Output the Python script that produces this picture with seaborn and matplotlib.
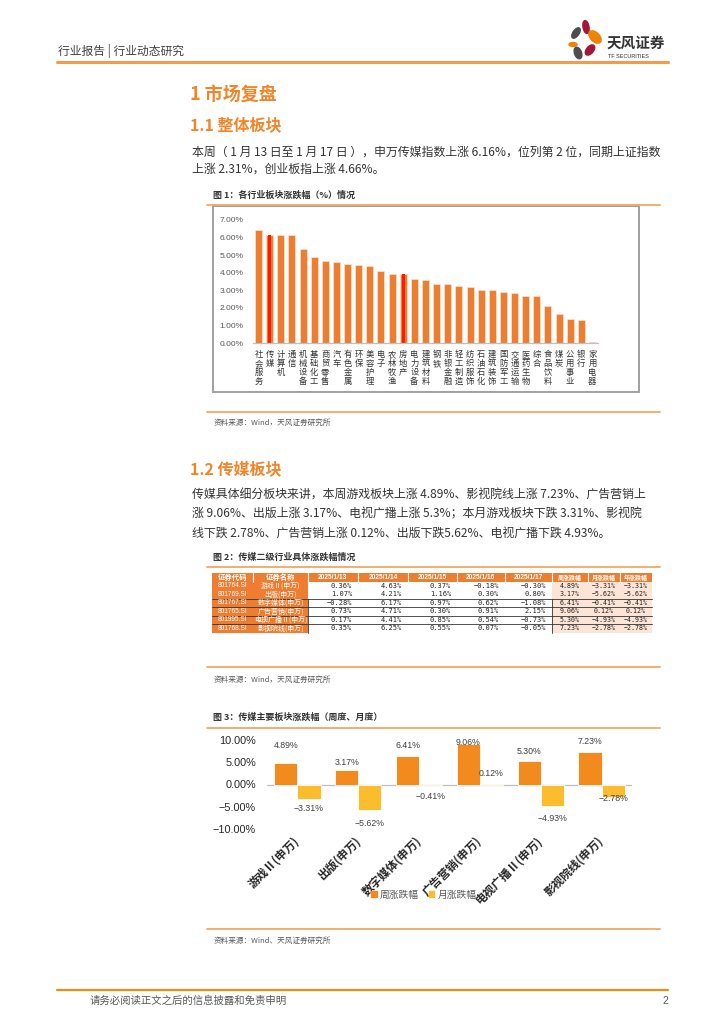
import matplotlib
matplotlib.use('Agg')
import matplotlib.pyplot as plt
import matplotlib.transforms as mtransforms
import seaborn as sns
import pandas as pd
from matplotlib.patches import Rectangle, Ellipse, Patch
from matplotlib.lines import Line2D

# ---------------- data ----------------
industries = ['社会服务', '传媒', '计算机', '通信', '机械设备', '基础化工', '商贸零售', '汽车',
              '有色金属', '环保', '美容护理', '电子', '农林牧渔', '房地产', '电力设备', '建筑材料',
              '钢铁', '非银金融', '轻工制造', '纺织服饰', '石油石化', '建筑装饰', '国防军工',
              '交通运输', '医药生物', '综合', '食品饮料', '煤炭', '公用事业', '银行', '家用电器']
industry_change = [6.41, 6.16, 6.15, 6.15, 5.37, 4.90, 4.69, 4.60, 4.50, 4.43, 4.39, 4.09,
                   3.92, 3.91, 3.67, 3.61, 3.35, 3.35, 3.25, 3.18, 3.01, 3.01, 2.88, 2.82,
                   2.67, 2.67, 2.10, 1.65, 1.38, 1.32, 0.08]
highlight = ['传媒', '房地产']
chart1_ticks = [0, 1, 2, 3, 4, 5, 6, 7]

table_header = ['证券代码', '证券名称', '2025/1/13', '2025/1/14', '2025/1/15', '2025/1/16',
                '2025/1/17', '周涨跌幅', '月涨跌幅', '年涨跌幅']
codes = ['801764.SI', '801769.SI', '801767.SI', '801765.SI', '801995.SI', '801768.SI']
sector_names = ['游戏Ⅱ(申万)', '出版(申万)', '数字媒体(申万)', '广告营销(申万)',
                '电视广播Ⅱ(申万)', '影视院线(申万)']
d0113 = [0.36, 1.07, -0.28, 0.73, 0.17, 0.35]
d0114 = [4.63, 4.21, 6.17, 4.71, 4.41, 6.25]
d0115 = [0.37, 1.16, 0.97, 0.30, 0.85, 0.55]
d0116 = [-0.18, 0.30, 0.62, 0.91, 0.54, 0.07]
d0117 = [-0.30, 0.80, -1.08, 2.15, -0.73, -0.05]
week_change = [4.89, 3.17, 6.41, 9.06, 5.30, 7.23]
month_change = [-3.31, -5.62, -0.41, 0.12, -4.93, -2.78]
year_change = [-3.31, -5.62, -0.41, 0.12, -4.93, -2.78]
chart3_ticks = [-10, -5, 0, 5, 10]
series_names = ['周涨跌幅', '月涨跌幅']

# ---------------- style ----------------
ORANGE = '#ED7D31'
TITLE_OR = '#F0852A'
LINE_OR = '#F5A762'
WEEK_C = '#F28A1E'
MONTH_C = '#FBBD2D'
W, H = 724, 1024
sns.set_theme(style='white')
plt.rcParams['font.family'] = ['Noto Sans CJK SC', 'DejaVu Sans']
plt.rcParams['axes.unicode_minus'] = False
NUM = ['Liberation Sans', 'DejaVu Sans']

fig = plt.figure(figsize=(W / 100, H / 100), dpi=100)
fig.patch.set_facecolor('white')
pg = fig.add_axes([0, 0, 1, 1])
pg.set_xlim(0, W)
pg.set_ylim(H, 0)
pg.axis('off')


def rect(x0, y0, x1, y1):
    return [x0 / W, 1 - y1 / H, (x1 - x0) / W, (y1 - y0) / H]


def hline(y, x0=207, x1=660, color=LINE_OR, lw=1.3):
    pg.add_line(Line2D([x0, x1], [y, y], color=color, lw=lw))


def txt(x, y, s, **kw):
    kw.setdefault('va', 'center')
    kw.setdefault('color', '#333333')
    pg.text(x, y, s, **kw)


# ---------------- header ----------------
txt(58, 51, '行业报告 | 行业动态研究', fontsize=8.5, color='#404040')
hline(61.5, 57, 668, color='#F39A4C', lw=2.2)
for (cx, cy, w, h, ang, c) in [(576, 33, 6, 12, 35, '#4D4D4D'), (586, 27, 6, 13, -10, '#A3173A'),
                                (595, 37, 9, 15, -45, '#F08300'), (573, 44.5, 8, 4, 0, '#F08300'),
                                (590, 50, 7, 12, 40, '#A3173A'), (578, 53, 7, 12, -20, '#4D4D4D')]:
    pg.add_patch(Ellipse((cx, cy), w, h, angle=ang, color=c))
txt(607, 43, '天风证券', fontsize=10.5, fontweight='bold', color='#333333')
txt(608, 56.5, 'TF SECURITIES', fontsize=4, color='#333333', family=NUM)

# ---------------- section 1 ----------------
txt(190, 94, '1 市场复盘', fontsize=13, fontweight='bold', color=TITLE_OR)
txt(190, 125, '1.1 整体板块', fontsize=11.5, fontweight='bold', color=TITLE_OR)
txt(192, 152, '本周（ 1 月 13 日至 1 月 17 日 ），申万传媒指数上涨 6.16%，位列第 2 位，同期上证指数',
    fontsize=8.6)
txt(192, 169.5, '上涨 2.31%，创业板指上涨 4.66%。', fontsize=8.6)

txt(213, 195, '图 1：各行业板块涨跌幅（%）情况', fontsize=6.5, fontweight='bold')
hline(204.5)
pg.add_patch(Rectangle((213, 206), 426, 186, fill=False, ec='#A0A0A0', lw=1.4))

ax1 = fig.add_axes(rect(253, 220, 598, 343))
sns.barplot(x=industries, y=industry_change, color=ORANGE, width=0.63, ax=ax1,
            edgecolor='#FBE3D2', linewidth=0.5, saturation=1)
hi_idx = [industries.index(n) for n in highlight]
ax1.bar(hi_idx, [industry_change[i] for i in hi_idx], width=0.28, color='#FF1A00', lw=0)
ax1.set_ylim(0, 7)
ax1.set_xlim(-0.5, len(industries) - 0.5)
ax1.set_yticks(chart1_ticks)
ax1.set_yticklabels([f'{t:.2f}%' for t in chart1_ticks], fontsize=6, color='#595959', family=NUM)
ax1.set_xticks(range(len(industries)))
ax1.set_xticklabels(['\n'.join(n) for n in industries], fontsize=6.0, color='#333333',
                    linespacing=0.98, va='top')
ax1.tick_params(axis='both', length=0)
ax1.tick_params(axis='y', pad=7)
ax1.tick_params(axis='x', pad=5)
for s in ['top', 'right', 'left']:
    ax1.spines[s].set_visible(False)
ax1.spines['bottom'].set_color('#BFBFBF')
ax1.spines['bottom'].set_linewidth(0.9)
ax1.set_xlabel('')
ax1.set_ylabel('')
ax1.patch.set_alpha(0)

hline(412)
txt(214, 423, '资料来源：Wind，天风证券研究所', fontsize=5.5, color='#595959')

# ---------------- section 1.2 ----------------
txt(190, 469, '1.2 传媒板块', fontsize=11.5, fontweight='bold', color=TITLE_OR)
txt(192, 495, '传媒具体细分板块来讲，本周游戏板块上涨 4.89%、影视院线上涨 7.23%、广告营销上', fontsize=8.6)
txt(192, 514, '涨 9.06%、出版上涨 3.17%、电视广播上涨 5.3%；本月游戏板块下跌 3.31%、影视院', fontsize=8.6)
txt(192, 533, '线下跌 2.78%、广告营销上涨 0.12%、出版下跌5.62%、电视广播下跌 4.93%。', fontsize=8.6)
txt(213, 557, '图 2：传媒二级行业具体涨跌幅情况', fontsize=6.5, fontweight='bold')
hline(567)

# ---------------- table ----------------
col_edges = [212, 253, 308, 358, 408, 457, 505, 552, 588, 620, 652]
row_edges = [573.3, 581.7, 590.0, 598.5, 607.0, 615.5, 624.0, 632.5]
pg.add_patch(Rectangle((col_edges[0], row_edges[0]), col_edges[-1] - col_edges[0],
                       row_edges[1] - row_edges[0], color=ORANGE, lw=0))
pg.add_patch(Rectangle((col_edges[0], row_edges[1]), col_edges[2] - col_edges[0],
                       row_edges[-1] - row_edges[1], color=ORANGE, lw=0))
pg.add_patch(Rectangle((col_edges[7], row_edges[1]), col_edges[-1] - col_edges[7],
                       row_edges[-1] - row_edges[1], color='#FCE4D6', lw=0))
for x in col_edges[1:-1]:
    pg.add_line(Line2D([x, x], [row_edges[0], row_edges[1]], color='white', lw=0.8))
for j, hd in enumerate(table_header):
    cx = (col_edges[j] + col_edges[j + 1]) / 2
    fs = 5.3 if j < 2 else (4.8 if j < 7 else 4.3)
    kw = dict(family=NUM) if '/' in hd else {}
    txt(cx, (row_edges[0] + row_edges[1]) / 2, hd, fontsize=fs, color='white', ha='center',
        fontweight='bold', **kw)
cols = [d0113, d0114, d0115, d0116, d0117, week_change, month_change, year_change]
for i in range(len(codes)):
    cy = (row_edges[i + 1] + row_edges[i + 2]) / 2
    txt((col_edges[0] + col_edges[1]) / 2, cy, codes[i], fontsize=4.7, color='white',
        ha='center', family=NUM)
    txt((col_edges[1] + col_edges[2]) / 2, cy, sector_names[i], fontsize=5.0, color='white',
        ha='center')
    for k, col in enumerate(cols):
        j = k + 2
        s = f'{col[i]:.2f}%'.replace('-', '−')
        if j < 7:
            txt(col_edges[j + 1] - 6, cy, s, fontsize=5.0, color='#222222', ha='right',
                family=['DejaVu Sans Mono'])
        else:
            txt((col_edges[j] + col_edges[j + 1]) / 2, cy, s, fontsize=4.8, color='#222222',
                ha='center', family=['DejaVu Sans Mono'])
for y in row_edges[3:7]:
    pg.add_line(Line2D([col_edges[0], col_edges[-1]], [y, y], color='#333333', lw=0.6))
for x in [col_edges[2], col_edges[7]]:
    pg.add_line(Line2D([x, x], [row_edges[3], row_edges[-1]], color='#333333', lw=0.6))

hline(667)
txt(214, 680, '资料来源：Wind，天风证券研究所', fontsize=5.5, color='#595959')

# ---------------- chart 3 ----------------
txt(213, 717, '图 3：传媒主要板块涨跌幅（周度、月度）', fontsize=6.5, fontweight='bold')
hline(727.5)

df3 = pd.DataFrame({
    'sector': sector_names * 2,
    'kind': [series_names[0]] * len(sector_names) + [series_names[1]] * len(sector_names),
    'value': week_change + month_change,
})
ax3 = fig.add_axes(rect(267, 740, 632, 829))
sns.barplot(data=df3, x='sector', y='value', hue='kind', palette=[WEEK_C, MONTH_C],
            width=0.76, ax=ax3, edgecolor='white', linewidth=0.6, saturation=1)
ax3.set_ylim(-10, 10)
ax3.set_xlim(-0.5, len(sector_names) - 0.5)
ax3.axhline(0, color='#BFBFBF', lw=0.9, zorder=0.5)
ax3.set_yticks(chart3_ticks)
ax3.set_yticklabels([f'{t:.2f}%'.replace('-', '−') for t in chart3_ticks], fontsize=7.8,
                    color='#262626', family=NUM)
ax3.set_xticks(range(len(sector_names)))
ax3.set_xticklabels(sector_names, rotation=45, ha='right', va='center', rotation_mode='anchor',
                    fontsize=8.3, fontweight='bold', color='#262626')
shift = mtransforms.ScaledTranslation(5 / 100, 0, fig.dpi_scale_trans)
for lab in ax3.get_xticklabels():
    lab.set_transform(lab.get_transform() + shift)
ax3.tick_params(axis='both', length=0)
ax3.tick_params(axis='y', pad=8)
ax3.tick_params(axis='x', pad=7)
for s in ax3.spines.values():
    s.set_visible(False)
ax3.set_xlabel('')
ax3.set_ylabel('')
ax3.patch.set_alpha(0)

week_dy = [17, 8, 10, 2, 9, 11]
month_dy = [-9, -14, -10, 10, -12, -2]
half = 0.19
for i, v in enumerate(week_change):
    ax3.annotate(f'{v:.2f}%', xy=(i - half, v), xytext=(0, week_dy[i]), textcoords='offset pixels',
                 ha='center', va='center', fontsize=6.3, color='#404040', family=NUM)
for i, v in enumerate(month_change):
    ax3.annotate(f'{v:.2f}%'.replace('-', '−'), xy=(i + half, v), xytext=(0, month_dy[i]),
                 textcoords='offset pixels', ha='center', va='center', fontsize=6.3,
                 color='#404040', family=NUM)

leg = ax3.get_legend()
if leg is not None:
    leg.remove()
handles = [Patch(color=WEEK_C), Patch(color=MONTH_C)]
fig.legend(handles, series_names, loc='center', bbox_to_anchor=(424 / W, 1 - 894.5 / H),
           ncol=2, frameon=False, fontsize=7, handlelength=0.55, handleheight=0.55,
           columnspacing=1.0, handletextpad=0.35, labelcolor='#595959')

hline(929)
txt(214, 941, '资料来源：Wind、天风证券研究所', fontsize=5.5, color='#595959')

# ---------------- footer ----------------
hline(990, 57, 668, color='#E98F16', lw=1.6)
txt(90, 1001, '请务必阅读正文之后的信息披露和免责申明', fontsize=7.5, color='#595959')
txt(668, 1001, '2', fontsize=7.5, color='#595959', ha='right', family=NUM)

fig.savefig('out.png', dpi=100, facecolor='white')
